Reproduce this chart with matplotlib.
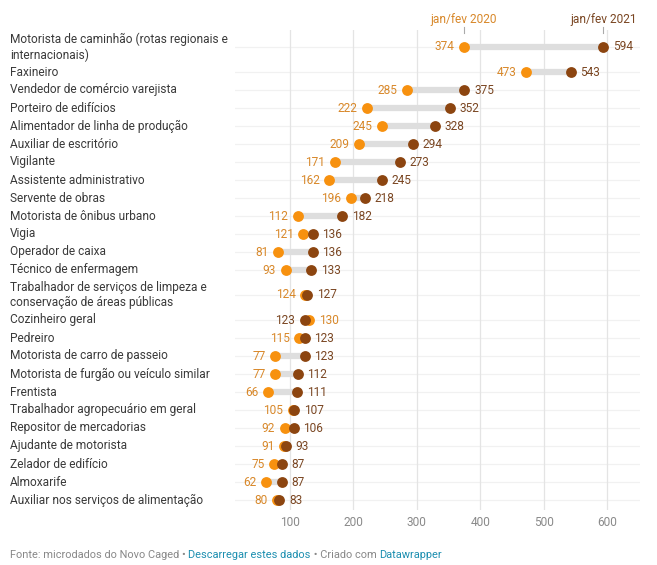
import matplotlib
matplotlib.use('Agg')
import matplotlib.pyplot as plt
import matplotlib.transforms as mtrans

plt.rcParams['font.family'] = ['Roboto', 'DejaVu Sans']

occupations = [
    'Motorista de caminhão (rotas regionais e\ninternacionais)',
    'Faxineiro',
    'Vendedor de comércio varejista',
    'Porteiro de edifícios',
    'Alimentador de linha de produção',
    'Auxiliar de escritório',
    'Vigilante',
    'Assistente administrativo',
    'Servente de obras',
    'Motorista de ônibus urbano',
    'Vigia',
    'Operador de caixa',
    'Técnico de enfermagem',
    'Trabalhador de serviços de limpeza e\nconservação de áreas públicas',
    'Cozinheiro geral',
    'Pedreiro',
    'Motorista de carro de passeio',
    'Motorista de furgão ou veículo similar',
    'Frentista',
    'Trabalhador agropecuário em geral',
    'Repositor de mercadorias',
    'Ajudante de motorista',
    'Zelador de edifício',
    'Almoxarife',
    'Auxiliar nos serviços de alimentação',
]
jan_fev_2020 = [374, 473, 285, 222, 245, 209, 171, 162, 196, 112, 121, 81, 93,
                124, 130, 115, 77, 77, 66, 105, 92, 91, 75, 62, 80]
jan_fev_2021 = [594, 543, 375, 352, 328, 294, 273, 245, 218, 182, 136, 136, 133,
                127, 123, 123, 123, 112, 111, 107, 106, 93, 87, 87, 83]
x_ticks = [100, 200, 300, 400, 500, 600]

ORANGE = '#f7910f'
BROWN = '#8c4510'
ORANGE_TXT = '#d8882a'
BROWN_TXT = '#7a4622'
TEAL = '#1d8fb0'
FS = 8.6

# row heights in pixels: two-line labels get taller rows
heights = [32 if '\n' in o else 18 for o in occupations]
ys = []
acc = 0
for h in heights:
    ys.append(acc + h / 2)
    acc += h

fig = plt.figure(figsize=(6.57, 5.65), dpi=100)
ax = fig.add_axes([235 / 657, 55 / 565, 405 / 657, 480 / 565])
ax.set_xlim(13.3, 652)
ax.set_ylim(acc + 1, -1)

for s in ax.spines.values():
    s.set_visible(False)
ax.set_yticks([])
ax.set_xticks(x_ticks)
ax.tick_params(axis='x', length=0, pad=4, labelsize=FS, labelcolor='#8a8a8a')
ax.grid(axis='x', color='#e4e4e4', lw=0.9)
ax.set_axisbelow(True)

label_trans = mtrans.blended_transform_factory(fig.dpi_scale_trans, ax.transData)

for i, (name, a, b) in enumerate(zip(occupations, jan_fev_2020, jan_fev_2021)):
    y = ys[i]
    ax.axhline(y, color='#f1f1f1', lw=0.9, zorder=0)
    ax.plot([a, b], [y, y], color='#dedede', lw=4.5, solid_capstyle='butt', zorder=1)
    ax.plot(a, y, 'o', color=ORANGE, ms=7.8, mew=0, zorder=3)
    ax.plot(b, y, 'o', color=BROWN, ms=7.8, mew=0, zorder=4)
    if a <= b:
        left, lcol, right, rcol = a, ORANGE_TXT, b, BROWN_TXT
    else:
        left, lcol, right, rcol = b, BROWN_TXT, a, ORANGE_TXT
    ax.annotate(str(left), (left, y), xytext=(-7, 0), textcoords='offset points',
                ha='right', va='center', fontsize=FS, color=lcol)
    ax.annotate(str(right), (right, y), xytext=(7, 0), textcoords='offset points',
                ha='left', va='center', fontsize=FS, color=rcol)
    ax.text(0.10, y, name, transform=label_trans, ha='left', va='center',
            fontsize=FS, color='#3a3a3a', linespacing=1.25, clip_on=False)

# header labels above the first row
trans = ax.get_xaxis_transform()
for val, lab, col in [(jan_fev_2020[0], 'jan/fev 2020', ORANGE_TXT),
                      (jan_fev_2021[0], 'jan/fev 2021', BROWN_TXT)]:
    ax.text(val, 1 + 10 / 480, lab, transform=trans, ha='center', va='center',
            fontsize=FS, color=col, clip_on=False)
    ax.plot([val, val], [1 + 3 / 480, 1 - 3 / 480], transform=trans,
            color='#aaaaaa', lw=0.8, clip_on=False)

# footer with coloured pieces
pieces = [('Fonte: microdados do Novo Caged • ', '#888888'),
          ('Descarregar estes dados', TEAL),
          (' • Criado com ', '#888888'),
          ('Datawrapper', TEAL)]
x = 10
for txt, col in pieces:
    t = fig.text(x / 657, 1 - 555 / 565, txt, fontsize=7.9, color=col,
                 ha='left', va='center')
    fig.canvas.draw()
    bb = t.get_window_extent(renderer=fig.canvas.get_renderer())
    x = bb.x1

fig.savefig('out.png', dpi=100)
